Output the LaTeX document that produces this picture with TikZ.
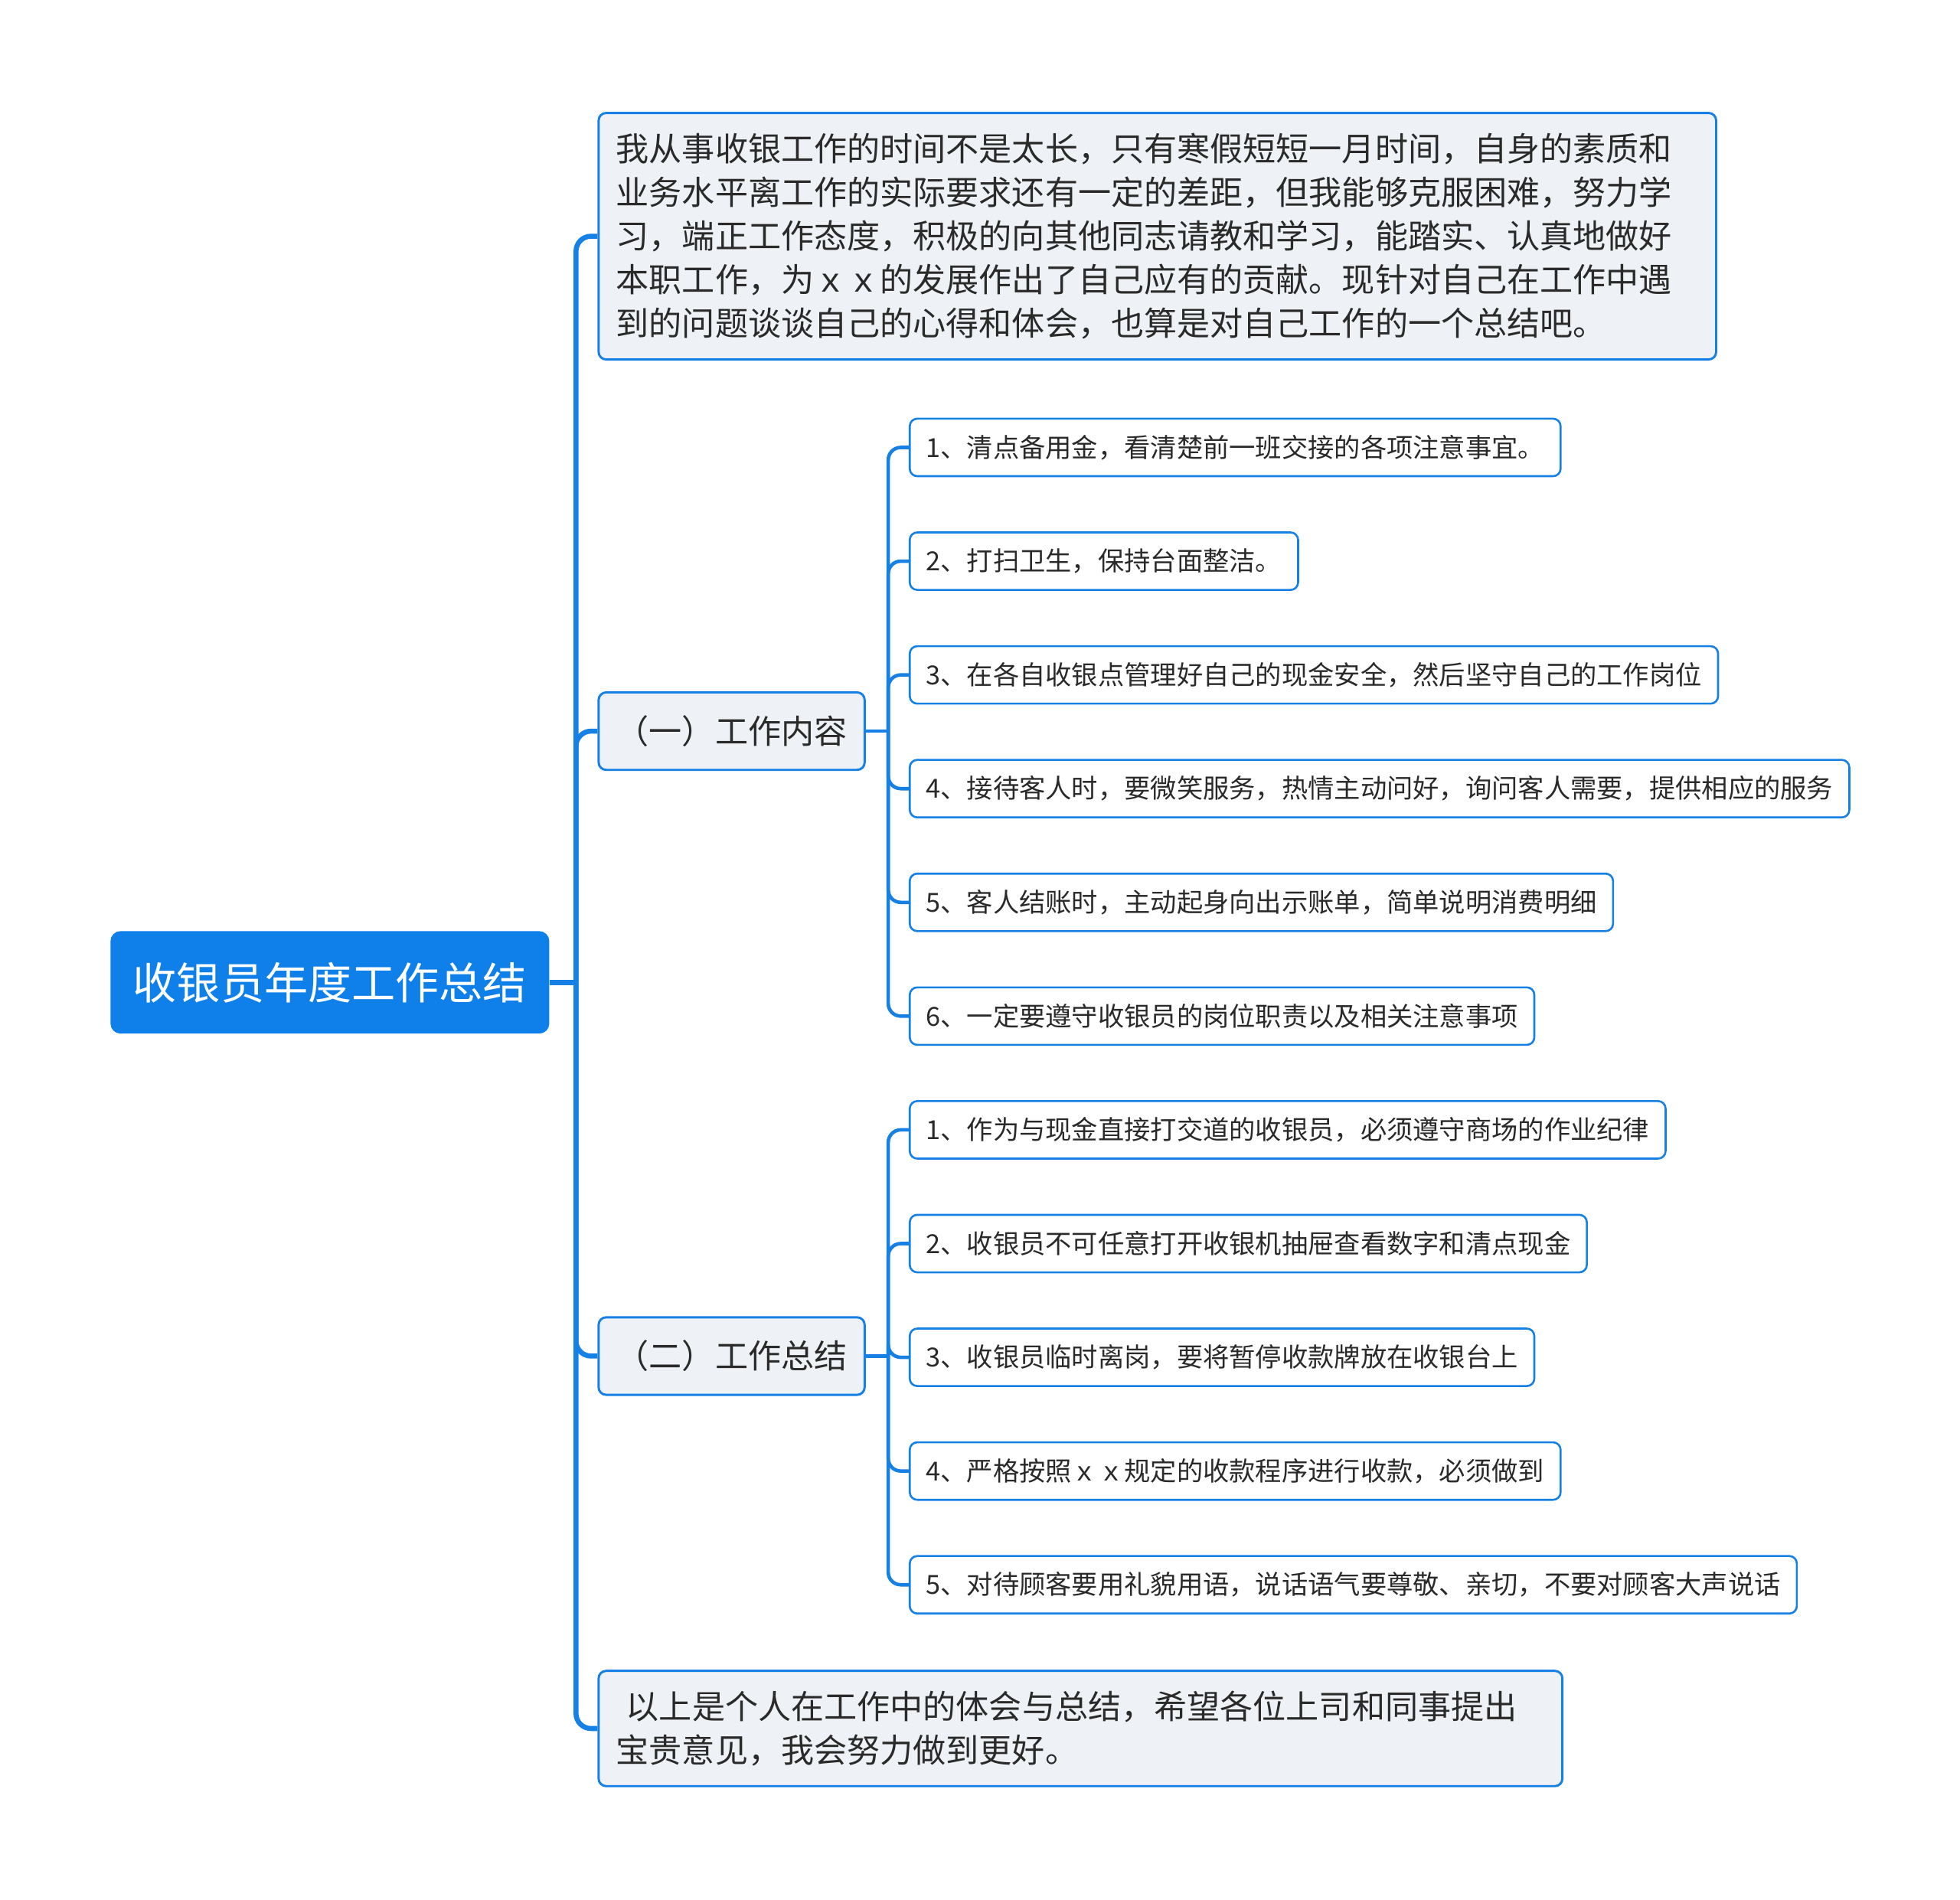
\documentclass[tikz,border=0pt]{standalone}
\usepackage{fontspec}
\usepackage{xcolor}
\usepackage{tikz}
\usetikzlibrary{positioning}
\newfontfamily\cjk{Noto Sans CJK SC}
\definecolor{mapblue}{HTML}{1680E4}
\definecolor{rootblue}{HTML}{0F80EA}
\definecolor{paper}{HTML}{EEF1F5}
\definecolor{ink}{HTML}{2A2A2A}
\tikzset{
  rootn/.style={fill=rootblue, text=white, rounded corners=4pt,
                font=\cjk\fontsize{17.5pt}{21pt}\selectfont, inner xsep=9pt,
                minimum height=41pt},
  topic/.style={draw=mapblue, line width=0.9pt, fill=paper, rounded corners=3pt,
                text=ink, align=left, inner xsep=7pt, inner ysep=8pt,
                font=\cjk\fontsize{13.2pt}{17.5pt}\selectfont, minimum height=31pt},
  leafn/.style={draw=mapblue, line width=0.8pt, fill=white, rounded corners=3pt,
                text=ink, font=\cjk\fontsize{10.5pt}{12pt}\selectfont,
                inner xsep=6.5pt, minimum height=23pt},
  trunk/.style={draw=mapblue, line width=2pt, rounded corners=6pt},
  twig/.style={draw=mapblue, line width=1.4pt, rounded corners=5pt},
}

\begin{document}
\begin{tikzpicture}[x=0.5pt, y=-0.5pt]
\fill[white] (0,0) rectangle (1568,1520);

\node[rootn, anchor=west] (root) at (88,786) {收银员年度工作总结};

\node[topic, anchor=west, text width=433pt] (intro) at (478,189)
  {我从事收银工作的时间不是太长，只有寒假短短一月时间，自身的素质和\\
   业务水平离工作的实际要求还有一定的差距，但我能够克服困难，努力学\\
   习，端正工作态度，积极的向其他同志请教和学习，能踏实、认真地做好\\
   本职工作，为ｘｘ的发展作出了自己应有的贡献。现针对自己在工作中遇\\
   到的问题谈谈自己的心得和体会，也算是对自己工作的一个总结吧。};
\node[topic, anchor=west, inner ysep=4pt] (s1) at (478,585) {（一）工作内容};
\node[topic, anchor=west, inner ysep=4pt] (s2) at (478,1085) {（二）工作总结};
\node[topic, anchor=west, text width=371.5pt] (outro) at (478,1383)
  {\hspace{4pt}以上是个人在工作中的体会与总结，希望各位上司和同事提出\\
   宝贵意见，我会努力做到更好。};

% first branch
\node[leafn, anchor=west] (a1) at (727,358) {1、清点备用金，看清楚前一班交接的各项注意事宜。};
\node[leafn, below=21.7pt of a1.south west, anchor=north west] (a2) {2、打扫卫生，保持台面整洁。};
\node[leafn, below=21.7pt of a2.south west, anchor=north west] (a3) {3、在各自收银点管理好自己的现金安全，然后坚守自己的工作岗位};
\node[leafn, below=21.7pt of a3.south west, anchor=north west] (a4) {4、接待客人时，要微笑服务，热情主动问好，询问客人需要，提供相应的服务};
\node[leafn, below=21.7pt of a4.south west, anchor=north west] (a5) {5、客人结账时，主动起身向出示账单，简单说明消费明细};
\node[leafn, below=21.7pt of a5.south west, anchor=north west] (a6) {6、一定要遵守收银员的岗位职责以及相关注意事项};

% second branch
\node[leafn, anchor=west] (b1) at (727,904) {1、作为与现金直接打交道的收银员，必须遵守商场的作业纪律};
\node[leafn, below=21.7pt of b1.south west, anchor=north west] (b2) {2、收银员不可任意打开收银机抽屉查看数字和清点现金};
\node[leafn, below=21.7pt of b2.south west, anchor=north west] (b3) {3、收银员临时离岗，要将暂停收款牌放在收银台上};
\node[leafn, below=21.7pt of b3.south west, anchor=north west] (b4) {4、严格按照ｘｘ规定的收款程序进行收款，必须做到};
\node[leafn, below=21.7pt of b4.south west, anchor=north west] (b5) {5、对待顾客要用礼貌用语，说话语气要尊敬、亲切，不要对顾客大声说话};

% junctions
\coordinate (j0) at ([xshift=10.5pt]root.east);
\coordinate (j1) at ([xshift=9pt]s1.east);
\coordinate (j2) at ([xshift=9pt]s2.east);

\draw[trunk] (root.east) -- (j0);
\foreach \k in {intro,s1,s2,outro}
  \draw[trunk] (j0) |- (\k.west);
\draw[twig] (s1.east) -- (j1);
\foreach \k in {1,...,6}
  \draw[twig] (j1) |- (a\k.west);
\draw[twig] (s2.east) -- (j2);
\foreach \k in {1,...,5}
  \draw[twig] (j2) |- (b\k.west);
\end{tikzpicture}
\end{document}
